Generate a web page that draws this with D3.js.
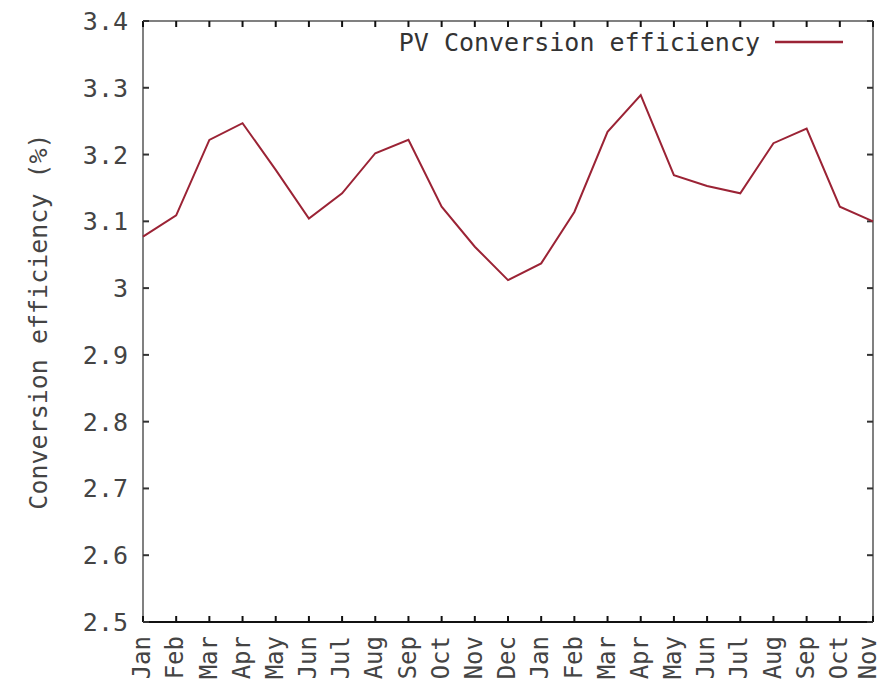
<!DOCTYPE html>
<html><head><meta charset="utf-8">
<script src="https://cdn.jsdelivr.net/npm/d3@7"></script>
<style>body{margin:0;background:#fff}svg{display:block}</style>
</head><body>
<script>
const months = ["Jan","Feb","Mar","Apr","May","Jun","Jul","Aug","Sep","Oct","Nov","Dec",
                "Jan","Feb","Mar","Apr","May","Jun","Jul","Aug","Sep","Oct","Nov"];
const efficiency = [3.077,3.109,3.222,3.247,3.177,3.104,3.142,3.202,3.222,3.122,3.062,3.012,
                    3.037,3.114,3.234,3.289,3.169,3.153,3.142,3.217,3.239,3.122,3.100];
const yTicks = [2.5,2.6,2.7,2.8,2.9,3.0,3.1,3.2,3.3,3.4];
const seriesName = "PV Conversion efficiency";
const yLabel = "Conversion efficiency (%)";

const W=883,H=689, L=143,R=873,T=21,B=622;
const font = "'DejaVu Sans Mono', monospace";
const svg = d3.select("body").append("svg").attr("width",W).attr("height",H);
const x = d3.scaleLinear().domain([0,months.length-1]).range([L,R]);
const y = d3.scaleLinear().domain([2.5,3.4]).range([B,T]);

// border
svg.append("line").attr("x1",L).attr("x2",L).attr("y1",T).attr("y2",B).attr("stroke","#808080").attr("stroke-width",2);
svg.append("line").attr("x1",R).attr("x2",R).attr("y1",T).attr("y2",B).attr("stroke","#808080").attr("stroke-width",2);
svg.append("line").attr("x1",L).attr("x2",R).attr("y1",T).attr("y2",T).attr("stroke","#808080").attr("stroke-width",2);
svg.append("line").attr("x1",L).attr("x2",R).attr("y1",B).attr("y2",B).attr("stroke","#111").attr("stroke-width",2);

// x ticks (bottom & top, inward)
const xi = d3.range(months.length);
svg.append("g").selectAll("line").data(xi).join("line")
  .attr("x1",d=>x(d)).attr("x2",d=>x(d)).attr("y1",B).attr("y2",B-6).attr("stroke","#111").attr("stroke-width",2);
svg.append("g").selectAll("line").data(xi).join("line")
  .attr("x1",d=>x(d)).attr("x2",d=>x(d)).attr("y1",T).attr("y2",T+6).attr("stroke","#111").attr("stroke-width",2);
// y ticks (left & right, inward)
svg.append("g").selectAll("line").data(yTicks).join("line")
  .attr("x1",L).attr("x2",L+6).attr("y1",d=>y(d)).attr("y2",d=>y(d)).attr("stroke","#333").attr("stroke-width",2);
svg.append("g").selectAll("line").data(yTicks).join("line")
  .attr("x1",R-6).attr("x2",R).attr("y1",d=>y(d)).attr("y2",d=>y(d)).attr("stroke","#333").attr("stroke-width",2);

// y tick labels
svg.append("g").selectAll("text").data(yTicks).join("text")
  .attr("x",128).attr("y",d=>y(d)).attr("dy","0.36em").attr("text-anchor","end")
  .attr("font-family",font).attr("font-size",25).attr("fill","#444")
  .text(d=>d===3?"3":d3.format(".1f")(d));

// x tick labels (last one nudged so it stays inside the page)
svg.append("g").selectAll("text").data(xi).join("text")
  .attr("transform",d=>`translate(${x(d) - (d===months.length-1?4:0)},636) rotate(-90)`)
  .attr("dy","0.3em").attr("text-anchor","end")
  .attr("font-family",font).attr("font-size",24).attr("fill","#444")
  .text(d=>months[d]);

// y axis label
svg.append("text").attr("transform",`translate(38,${(T+B)/2}) rotate(-90)`).attr("dy","0.36em")
  .attr("text-anchor","middle").attr("font-family",font).attr("font-size",25).attr("fill","#444").text(yLabel);

// line
const line = d3.line().x((d,i)=>x(i)).y(d=>y(d));
svg.append("path").datum(efficiency).attr("d",line).attr("fill","none")
  .attr("stroke","#9b2335").attr("stroke-width",2).attr("stroke-linejoin","miter");

// legend
svg.append("text").attr("x",760).attr("y",42).attr("dy","0.36em").attr("text-anchor","end")
  .attr("font-family",font).attr("font-size",25).attr("fill","#333").text(seriesName);
svg.append("line").attr("x1",775).attr("x2",843).attr("y1",42).attr("y2",42).attr("stroke","#9b2335").attr("stroke-width",2.5);
</script>
</body></html>
